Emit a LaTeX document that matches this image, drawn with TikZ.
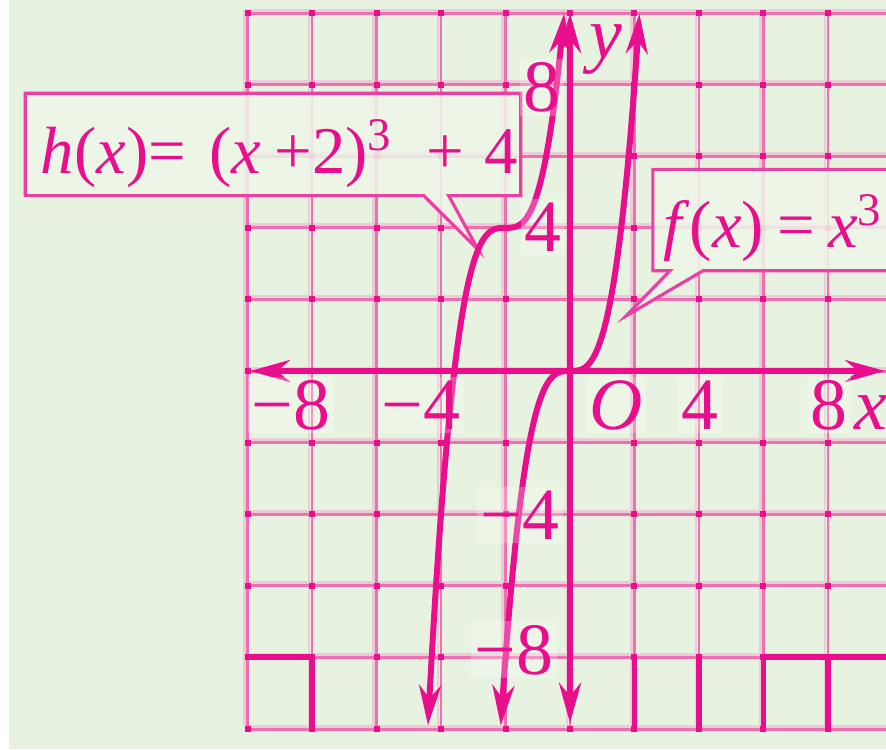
\documentclass[tikz,border=0pt]{standalone}
\usepackage{fontspec}
\setmainfont{Liberation Serif}
\usetikzlibrary{arrows.meta}
\definecolor{hpink}{RGB}{232,14,140}
\definecolor{gpink}{RGB}{238,112,176}
\definecolor{gshade}{RGB}{234,204,214}
\definecolor{bg}{RGB}{232,242,224}

\begin{document}
\begin{tikzpicture}[x=0.3225cm,y=0.358cm,>={Stealth[length=0.4cm,width=0.22cm]},
  axis/.style={hpink,line width=1.7pt},
  curve/.style={hpink,line width=1.7pt},
  gridline/.style={gpink,line width=0.85pt},
  lbl/.style={text=hpink,font=\fontsize{21}{24}\selectfont,fill=white,fill opacity=0.25,text opacity=1,inner sep=1pt},
  eq/.style={text=hpink,font=\fontsize{19}{22}\selectfont,inner sep=0pt},
  callout/.style={draw=hpink!80,line width=0.9pt,fill=white!30!bg,fill opacity=0.85}]
  \useasboundingbox (-5.70cm,-3.78cm) rectangle (3.16cm,3.71cm);
  \fill[white] (-5.70cm,-3.78cm) rectangle (3.16cm,3.71cm);
  \fill[bg] (-5.61cm,-3.78cm) rectangle (3.16cm,3.71cm);

  % grid
  \begin{scope}[shift={(-0.03cm,0.03cm)}]
    \foreach \i in {-10,-8,...,10} {
      \draw[gshade,line width=0.85pt] (\i,-10) -- (\i,10);
      \draw[gshade,line width=0.85pt] (-10,\i) -- (10,\i);
    }
  \end{scope}
  \foreach \i in {-10,-8,...,10} {
    \draw[gridline] (\i,-10) -- (\i,10);
    \draw[gridline] (-10,\i) -- (10,\i);
  }
  \foreach \i in {-10,-8,...,10}
    \foreach \j in {-10,-8,...,10}
      \fill[hpink] (\i,\j) ++(-0.03cm,-0.03cm) rectangle ++(0.06cm,0.06cm);
  \draw[axis] (-10,-8) -- (-8,-8) -- (-8,-10);
  \draw[axis] (10.5,-8) -- (6,-8) -- (6,-10);
  \foreach \i in {2,4,8}
    \draw[axis] (\i,-8) -- (\i,-10);

  % labels of the two graphs
  \node[minimum width=4.94cm,minimum height=1.01cm,inner sep=0pt] (hbox) at (-9.21,6.33) {};
  \coordinate (htip) at (-2.85,3.39);
  \coordinate (hb1) at ([xshift=-0.97cm]hbox.south east);
  \coordinate (hb2) at ([xshift=-0.72cm]hbox.south east);
  \draw[callout] (hbox.south west) -- (hbox.north west) -- (hbox.north east)
    -- (hbox.south east) -- (hb2) -- (htip) -- (hb1) -- cycle;
  \node[minimum width=2.6cm,minimum height=1.0cm,inner sep=0pt,anchor=west] (fbox) at (2.57,4.215) {};
  \coordinate (ftip) at (1.74,1.54);
  \coordinate (fb1) at ([xshift=0.17cm]fbox.south west);
  \coordinate (fb2) at ([xshift=0.50cm]fbox.south west);
  \draw[callout] (fbox.north west) -- (fbox.north east) -- (fbox.south east)
    -- (fb2) -- (ftip) -- (fb1) -- (fbox.south west) -- cycle;
  \node[eq,anchor=base west] (hx) at (-16.43,5.53)
    {\textit{h}(\textit{x})=\hspace{0.35em}(\textit{x}\hspace{0.2em}+2)\textsuperscript{3}\hspace{0.5em}+\hspace{0.3em}4};
  \node[eq,anchor=base west] (fx) at (2.88,3.46)
    {\textit{f}(\textit{x})\hspace{0.2em}=\hspace{0.2em}\textit{x}\textsuperscript{3}};

  % axes
  \draw[axis,<->] (-9.92,0) -- (9.77,0);
  \draw[axis,<->] (0,-9.83) -- (0,10);

  % graphs
  \draw[curve,<->] plot[domain=-2.147:2.154,samples=120] (\x,{\x*\x*\x});
  \draw[curve,<->] plot[domain=-4.404:-0.183,samples=120] (\x,{(\x+2)*(\x+2)*(\x+2)+4});

  % tick labels
  \node[lbl] (xm8) at (-8.65,-0.95) {−8};
  \node[lbl] (xm4) at (-4.62,-0.95) {−4};
  \node[lbl] (o) at (1.43,-0.95) {\textit{O}};
  \node[lbl] (x4) at (4.03,-0.95) {4};
  \node[lbl] (x8) at (8.03,-0.95) {8};
  \node[lbl,fill=none] (xl) at (9.33,-1.17) {\textit{x}};
  \node[lbl] (y8) at (-0.87,7.93) {8};
  \node[lbl] (y4) at (-0.84,4.02) {4};
  \node[lbl] (ym4) at (-1.55,-4.02) {−4};
  \node[lbl] (ym8) at (-1.74,-7.79) {−8};
  \node[lbl,fill=none] (yl) at (1.12,8.97) {\textit{y}};
\end{tikzpicture}
\end{document}
